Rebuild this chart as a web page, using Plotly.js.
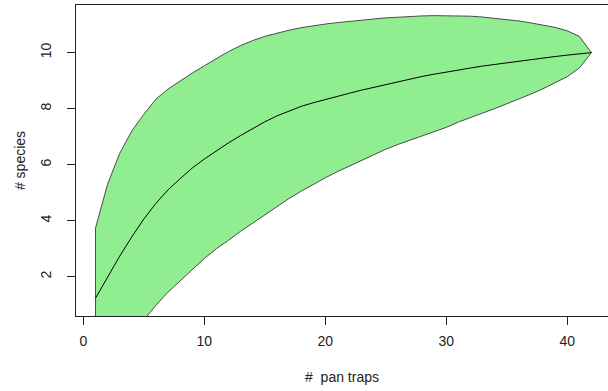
<!DOCTYPE html>
<html>
<head>
<meta charset="utf-8">
<script src="https://cdn.plot.ly/plotly-3.0.1.min.js"></script>
<style>
  html, body { margin: 0; padding: 0; background: #ffffff; }
  #chart { width: 608px; height: 391px; }
</style>
</head>
<body>
<div id="chart"></div>
<script>
// Number of pan traps (sites)
const traps = [1, 2, 3, 4, 5, 6, 7, 8, 9, 10, 11, 12, 13, 14, 15, 16, 17, 18, 19, 20, 21,
               22, 23, 24, 25, 26, 27, 28, 29, 30, 31, 32, 33, 34, 35, 36, 37, 38, 39, 40, 41, 42];

// Mean accumulated species richness
const richness = [1.23, 2.0, 2.73, 3.42, 4.06, 4.62, 5.1, 5.5, 5.88, 6.2, 6.5, 6.78, 7.04, 7.29,
                  7.53, 7.74, 7.92, 8.08, 8.21, 8.33, 8.44, 8.55, 8.66, 8.76, 8.87, 8.97, 9.06, 9.15,
                  9.23, 9.31, 9.38, 9.45, 9.52, 9.58, 9.64, 9.7, 9.76, 9.81, 9.86, 9.91, 9.96, 10.0];

// Upper confidence bound
const upper = [3.73, 5.3, 6.4, 7.2, 7.8, 8.34, 8.7, 9.0, 9.27, 9.53, 9.8, 10.04, 10.25, 10.43,
               10.58, 10.7, 10.8, 10.89, 10.96, 11.02, 11.07, 11.12, 11.16, 11.2, 11.24, 11.27,
               11.29, 11.31, 11.32, 11.32, 11.31, 11.3, 11.27, 11.23, 11.19, 11.13, 11.06, 10.99,
               10.9, 10.78, 10.58, 10.0];

// Lower confidence bound
const lower = [-1.2, -1.0, -0.6, -0.1, 0.45, 0.98, 1.45, 1.85, 2.25, 2.65, 3.0, 3.3, 3.62, 3.94,
               4.22, 4.5, 4.79, 5.05, 5.3, 5.53, 5.75, 5.96, 6.15, 6.35, 6.55, 6.72, 6.88, 7.04,
               7.18, 7.33, 7.52, 7.68, 7.84, 8.0, 8.16, 8.34, 8.52, 8.71, 8.92, 9.14, 9.45, 10.0];

const xTicks = [0, 10, 20, 30, 40];
const yTicks = [2, 4, 6, 8, 10];

const polyX = traps.concat(traps.slice().reverse()).concat([traps[0]]);
const polyY = upper.concat(lower.slice().reverse()).concat([upper[0]]);

const font = { family: 'Liberation Sans, Arial, sans-serif', size: 14, color: '#222222' };

const traces = [
  {
    x: polyX, y: polyY, type: 'scatter', mode: 'lines',
    fill: 'toself', fillcolor: '#90EE90',
    line: { color: '#4a4a4a', width: 1 },
    hoverinfo: 'skip', showlegend: false
  },
  {
    x: traps, y: richness, type: 'scatter', mode: 'lines',
    line: { color: '#000000', width: 1 },
    showlegend: false
  }
];

const layout = {
  width: 608, height: 391,
  margin: { l: 76, r: 0, t: 5, b: 75 },
  paper_bgcolor: '#ffffff', plot_bgcolor: '#ffffff',
  font: font,
  showlegend: false,
  xaxis: {
    range: [-0.61, 43.37],
    tickvals: xTicks, ticktext: xTicks.map(String),
    ticks: 'outside', ticklen: 8, tickwidth: 1, tickcolor: '#222222',
    ticklabelstandoff: 4,
    showline: true, mirror: true, linecolor: '#222222', linewidth: 1,
    showgrid: false, zeroline: false,
    tickfont: font,
    title: { text: '#\u00a0\u00a0pan traps', font: font, standoff: 24 }
  },
  yaxis: {
    range: [0.596, 11.70],
    tickvals: yTicks, ticktext: yTicks.map(String),
    tickangle: -90,
    ticks: 'outside', ticklen: 8, tickwidth: 1, tickcolor: '#222222',
    ticklabelstandoff: 10,
    showline: true, mirror: false, linecolor: '#222222', linewidth: 1,
    showgrid: false, zeroline: false,
    tickfont: font,
    title: { text: '# species', font: font, standoff: 9 }
  }
};

Plotly.newPlot('chart', traces, layout, { staticPlot: true, displayModeBar: false });
</script>
</body>
</html>
